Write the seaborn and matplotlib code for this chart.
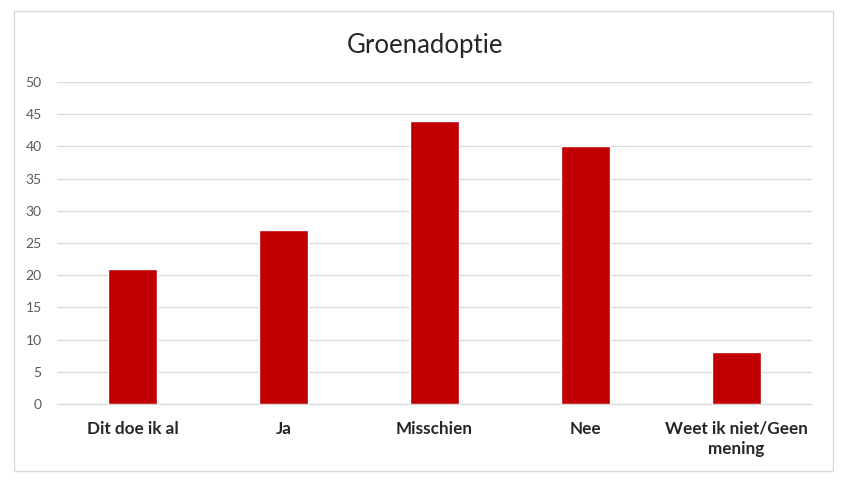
import matplotlib
matplotlib.use('Agg')
import matplotlib.pyplot as plt
import seaborn as sns
import pandas as pd
from matplotlib.patches import Rectangle

#chart values
categories = ['Dit doe ik al', 'Ja', 'Misschien', 'Nee', 'Weet ik niet/Geen\nmening']
counts = [21, 27, 44, 40, 8]
yticks = [0, 5, 10, 15, 20, 25, 30, 35, 40, 45, 50]

df = pd.DataFrame({'antwoord': categories, 'aantal': counts})

sns.set_style('white')
plt.rcParams['font.family'] = ['Lato', 'DejaVu Sans']

fig = plt.figure(figsize=(8.49, 4.8), dpi=100)
ax = fig.add_axes([0.0671, 0.1583, 0.8893, 0.6709])

sns.barplot(data=df, x='antwoord', y='aantal', color='#C00000', width=0.32,
            saturation=1, ax=ax, zorder=3)

ax.set_xlim(-0.5, 4.5)
ax.set_ylim(0, 50)
ax.set_yticks(yticks)
ax.yaxis.grid(True, color='#d9d9d9', linewidth=0.9, zorder=0)
ax.set_axisbelow(True)
for s in ['top', 'right', 'left']:
    ax.spines[s].set_visible(False)
ax.spines['bottom'].set_color('#d9d9d9')
ax.set_xlabel('')
ax.set_ylabel('')
ax.tick_params(axis='y', length=0, pad=11, labelsize=10, labelcolor='#595959')
ax.tick_params(axis='x', length=0, pad=12)
for lbl in ax.get_xticklabels():
    lbl.set_fontweight('bold')
    lbl.set_fontsize(12.3)
    lbl.set_color('#262626')
    lbl.set_linespacing(1.3)

fig.text(0.5, 0.906, 'Groenadoptie', ha='center', va='center', fontsize=18.5, color='#262626')

#chart border
fig.patches.append(Rectangle((14 / 849, 1 - 471 / 480), 819 / 849, 460 / 480,
                             transform=fig.transFigure, fill=False,
                             edgecolor='#d9d9d9', linewidth=1))

plt.savefig('out.png', dpi=100)
